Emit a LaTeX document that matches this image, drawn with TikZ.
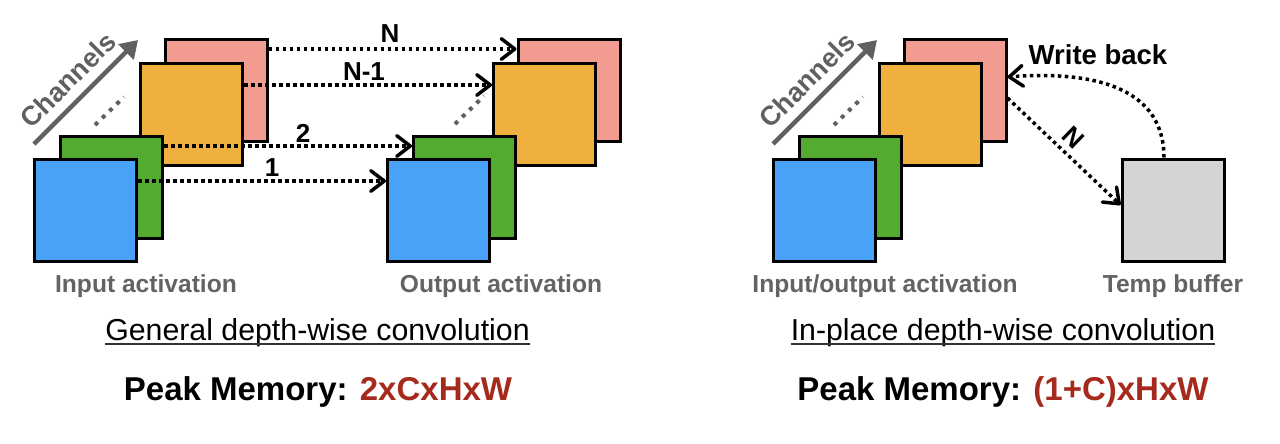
\documentclass[tikz,border=0pt]{standalone}
\usepackage{fontspec}
\setmainfont{Liberation Sans}
\usetikzlibrary{arrows.meta}
\definecolor{cblue}{HTML}{48A2F8}
\definecolor{cgreen}{HTML}{55AB32}
\definecolor{corange}{HTML}{F0B03F}
\definecolor{cpink}{HTML}{F29C91}
\definecolor{cbuf}{HTML}{D4D4D4}
\definecolor{tgray}{HTML}{636363}
\definecolor{cgray}{HTML}{606060}
\definecolor{cred}{HTML}{A62A1C}
\begin{document}
\begin{tikzpicture}[x=1pt,y=-1pt,
  sq/.style={draw=black, line width=3pt, minimum size=102pt, inner sep=0pt},
  lbl/.style={font=\fontsize{24.6}{28}\selectfont\bfseries, text=tgray, inner sep=0pt, anchor=base},
  ttl/.style={font=\fontsize{30.3}{34}\selectfont, inner sep=0pt, anchor=base},
  peak/.style={font=\fontsize{33}{38}\selectfont\bfseries, inner sep=0pt, anchor=base},
  num/.style={font=\fontsize{26}{30}\selectfont\bfseries, inner sep=0pt},
  chtxt/.style={font=\fontsize{27}{30}\selectfont\bfseries, text=cgray, inner sep=0pt, rotate=45},
  flow/.style={line width=3.5pt, dash pattern=on 3.5pt off 3.5pt, -{Straight Barb[angle=75:17pt,line width=3.5pt,round]}},
  chan/.style={draw=cgray, line width=4.5pt, -{Triangle[length=17pt,width=21pt]}},
  gdots/.style={draw=cgray, line width=4pt, dash pattern=on 4pt off 6pt},
  uline/.style={draw=black!80, line width=1.8pt},
]
\useasboundingbox (0,0) rectangle (1280,444);

% ---------- left: general depth-wise convolution ----------
\coordinate (chLs) at (34,144);
\coordinate (chLe) at (138,40);
\draw[chan] (chLs) -- (chLe);
\node[chtxt] (chL) at (68,80) {Channels};
\coordinate (dLs) at (95,125);
\coordinate (dLe) at (124,97);
\draw[gdots] (dLs) -- (dLe);

\node[sq, fill=cpink]   (inP) at (216,90.5) {};
\node[sq, fill=corange] (inO) at (191.5,114.5) {};
\node[sq, fill=cgreen]  (inG) at (111.5,187) {};
\node[sq, fill=cblue]   (inB) at (85.5,210) {};

\coordinate (dOs) at (455,124);
\coordinate (dOe) at (484,96);
\draw[gdots] (dOs) -- (dOe);

\node[sq, fill=cpink]   (outP) at (569,90.5) {};
\node[sq, fill=corange] (outO) at (544.5,114.5) {};
\node[sq, fill=cgreen]  (outG) at (464.5,187) {};
\node[sq, fill=cblue]   (outB) at (438.5,210) {};

\draw[flow] ([yshift=41.5pt]inP.east) -- ([yshift=41.5pt]outP.west);
\draw[flow] ([yshift=29.5pt]inO.east) -- ([yshift=29.5pt]outO.west);
\draw[flow] ([yshift=41pt]inG.east) -- ([yshift=41pt]outG.west);
\draw[flow] ([yshift=29pt]inB.east) -- ([yshift=29pt]outB.west);

\node[num] (lN)  at (390,34)  {N};
\node[num] (lN1) at (364,72)  {N-1};
\node[num] (l2)  at (303,133) {2};
\node[num] (l1)  at (272,168) {1};

\node[lbl] (inLbl)  at (146,292) {Input activation};
\node[lbl] (outLbl) at (501,292) {Output activation};

\node[ttl] (t1) at (317.5,340) {General depth-wise convolution};
\draw[uline] ([yshift=-4pt]t1.base west) -- ([yshift=-4pt]t1.base east);
\node[peak] (p1) at (318,400) {Peak Memory: \textcolor{cred}{2xCxHxW}};

% ---------- right: in-place depth-wise convolution ----------
\coordinate (chRs) at (773,144);
\coordinate (chRe) at (877,40);
\draw[chan] (chRs) -- (chRe);
\node[chtxt] (chR) at (807,80) {Channels};
\coordinate (dRs) at (834,125);
\coordinate (dRe) at (863,97);
\draw[gdots] (dRs) -- (dRe);

\node[sq, fill=cpink]   (rP) at (955,90.5) {};
\node[sq, fill=corange] (rO) at (930.5,114.5) {};
\node[sq, fill=cgreen]  (rG) at (850.5,187) {};
\node[sq, fill=cblue]   (rB) at (824.5,210) {};

\node[sq, fill=cbuf] (tmp) at (1173,210) {};

\draw[flow] ([yshift=-7.5pt]rP.east) -- ([yshift=5pt]tmp.west);
\node[num, rotate=-44] (rN) at (1073,138) {N};
\draw[flow] ([xshift=-9pt]tmp.north) .. controls +(0,-67) and +(92,-7) .. ([yshift=13.5pt]rP.east);
\node[num, font=\fontsize{27.5}{30}\selectfont\bfseries] (wb) at (1098,54.5) {Write back};

\node[lbl] (ioLbl)  at (885,292) {Input/output activation};
\node[lbl] (tmpLbl) at (1173,292) {Temp buffer};

\node[ttl] (t2) at (1003,340) {In-place depth-wise convolution};
\draw[uline] ([yshift=-4pt]t2.base west) -- ([yshift=-4pt]t2.base east);
\node[peak] (p2) at (1003,400) {Peak Memory: \textcolor{cred}{(1+C)xHxW}};
\end{tikzpicture}
\end{document}
